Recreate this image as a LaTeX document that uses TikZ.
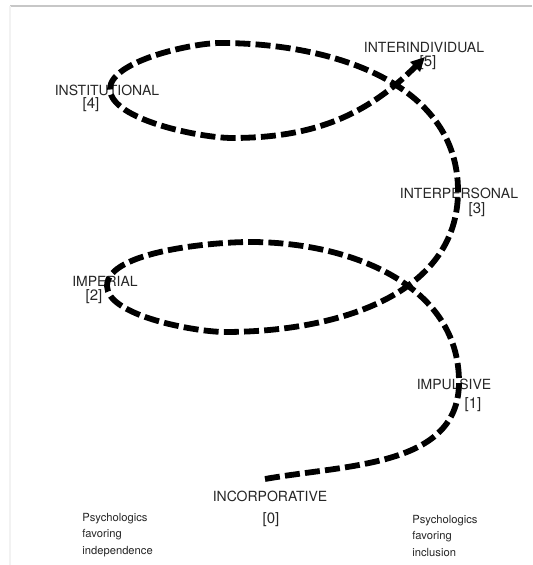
\documentclass[tikz,border=0pt]{standalone}
\usepackage{fontspec}
\setmainfont{TeX Gyre Heros}
\usetikzlibrary{arrows.meta}

\begin{document}
\begin{tikzpicture}[x=0.5pt, y=0.5pt,
    stage/.style={font=\fontsize{7}{8}\selectfont, text=black!85, inner sep=0pt},
    num/.style={font=\fontsize{7.5}{8}\selectfont, text=black!85, inner sep=0pt},
    note/.style={font=\fontsize{5.6}{8.25}\selectfont, text=black!85, align=left, anchor=west, inner sep=0pt},
    spiral/.style={line width=2.9pt, dash pattern=on 7.5pt off 2.6pt, -{Triangle[length=7pt,width=6.5pt]}}]
    \useasboundingbox (0,0) rectangle (532,565);

    % Frame edge
    \draw[black!22, line width=0.8pt] (10,559) -- (532,559);
    \draw[black!5, line width=0.6pt] (10,559) -- (10,0);

    % Stages
    \node[stage] (incorp) at (270,69) {INCORPORATIVE};
    \node[num] (n0) at (271,45) {[0]};
    \node[stage] (impuls) at (454,181) {IMPULSIVE};
    \node[num] (n1) at (473,160) {[1]};
    \node[stage] (imper) at (105,284) {IMPERIAL};
    \node[num] (n2) at (94,268) {[2]};
    \node[stage] (interp) at (459,372) {INTERPERSONAL};
    \node[num] (n3) at (477,355) {[3]};
    \node[stage] (instit) at (107,475) {INSTITUTIONAL};
    \node[num] (n4) at (91,460) {[4]};
    \node[stage] (interi) at (424,517) {INTERINDIVIDUAL};
    \node[num] (n5) at (428,502) {[5]};

    % Two poles
    \node[note] (indep) at (82,30) {Psychologics\\favoring\\independence};
    \node[note] (incl) at (412,29) {Psychologics\\favoring\\inclusion};

    % Turning points of the spiral
    \coordinate (s0) at (265,86);
    \coordinate (r1) at (459,183);
    \coordinate (t2) at (250,323);
    \coordinate (l2) at (107,279);
    \coordinate (b2) at (225,233);
    \coordinate (r3) at (458,374);
    \coordinate (t4) at (220,522);
    \coordinate (l4) at (110,476);
    \coordinate (b4) at (232,427);
    \coordinate (e5) at (425,508);

    % Spiral
    \draw[spiral] (s0) to[out=10,in=-90] (r1)
        to[out=90,in=0] (t2)
        to[out=180,in=90,looseness=0.6] (l2)
        to[out=-90,in=180,looseness=0.6] (b2)
        to[out=0,in=-90] (r3)
        to[out=90,in=0] (t4)
        to[out=180,in=90,looseness=0.6] (l4)
        to[out=-90,in=180,looseness=0.6] (b4)
        to[out=0,in=225] (e5);
\end{tikzpicture}
\end{document}
